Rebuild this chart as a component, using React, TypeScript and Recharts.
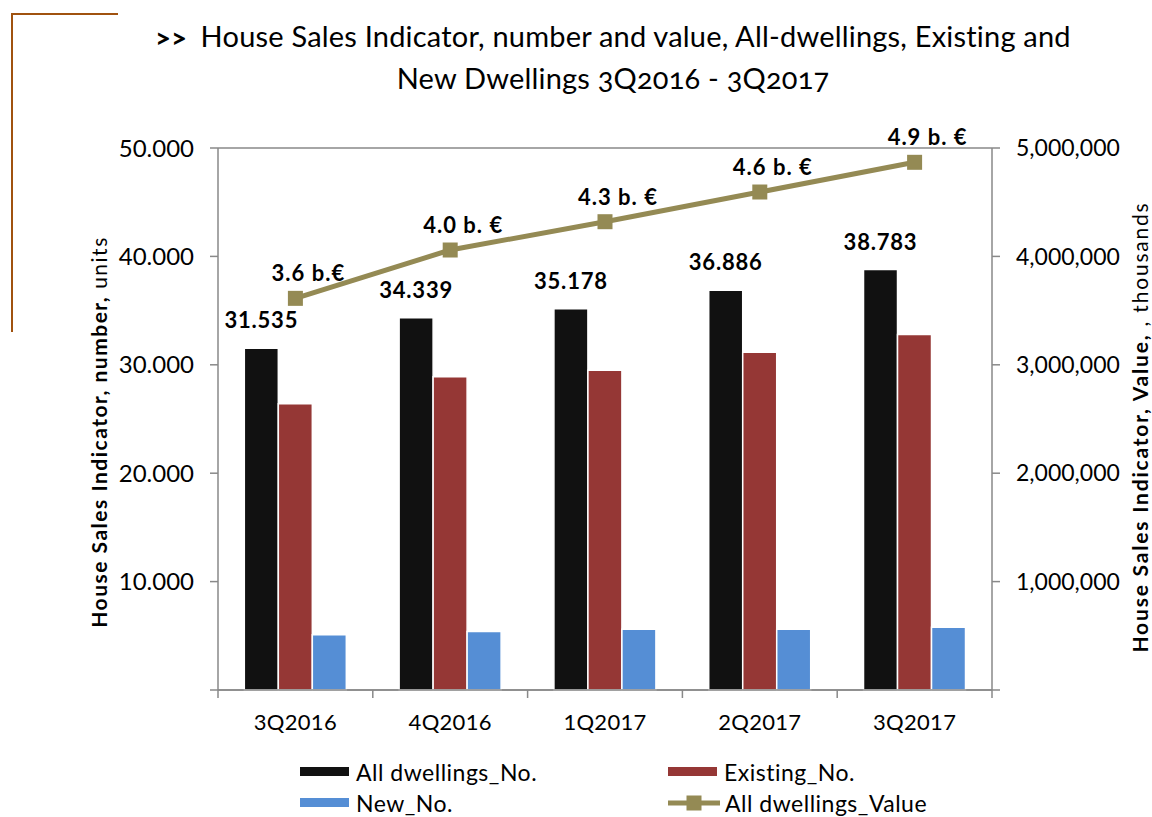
import React from 'react';
import {
  Bar,
  CartesianGrid,
  ComposedChart,
  LabelList,
  Line,
  XAxis,
  YAxis,
} from 'recharts';

const categories = ['3Q2016', '4Q2016', '1Q2017', '2Q2017', '3Q2017'];
const allDwellingsNo = [31535, 34339, 35178, 36886, 38783];
const existingNo = [26400, 28900, 29500, 31150, 32800];
const newNo = [5100, 5400, 5600, 5600, 5800];
const allDwellingsValue = [3613000, 4059000, 4320000, 4594000, 4868000];
const valueLabels = ['3.6 b.€', '4.0 b. €', '4.3 b. €', '4.6 b. €', '4.9 b. €'];
const leftTicks = [0, 10000, 20000, 30000, 40000, 50000];
const rightTicks = [0, 1000000, 2000000, 3000000, 4000000, 5000000];

const data = categories.map((name, i) => ({
  name,
  all: allDwellingsNo[i],
  existing: existingNo[i],
  fresh: newNo[i],
  value: allDwellingsValue[i],
  valueLabel: valueLabels[i],
}));

const W = 1152;
const H = 817;
const LEFT_W = 218;
const RIGHT_W = 160;
const TOP = 148;
const X_H = 127;
const STEP = (W - LEFT_W - RIGHT_W) / categories.length;

const FONT = 'Lato, "Open Sans", sans-serif';
const AXIS = '#898989';
const C_ALL = '#111111';
const C_EXIST = '#953735';
const C_NEW = '#558ED5';
const C_VALUE = '#948A54';

const sep = (v: number, ch: string) => String(v).replace(/\B(?=(\d{3})+(?!\d))/g, ch);

const XTick = (props: any) => {
  const { x, y, payload, index } = props;
  return (
    <g>
      <line x1={x - STEP / 2} x2={x - STEP / 2} y1={y} y2={y + 8} stroke={AXIS} strokeWidth={1.5} />
      {index === categories.length - 1 && (
        <line x1={x + STEP / 2} x2={x + STEP / 2} y1={y} y2={y + 8} stroke={AXIS} strokeWidth={1.5} />
      )}
      <text x={x} y={y + 40} textAnchor="middle" fontSize={22} letterSpacing={0.3} fontFamily={FONT} fill="#000">
        {payload.value}
      </text>
    </g>
  );
};

const BarLabel = (props: any) => {
  const { x, y, width, value } = props;
  return (
    <text
      x={x + width / 2}
      y={y - 20}
      textAnchor="middle"
      fontSize={22}
      letterSpacing={0.8}
      fontWeight="bold"
      fontFamily={FONT}
      fill="#000"
    >
      {sep(value, '.')}
    </text>
  );
};

const ValueLabel = (props: any) => {
  const { x, y, value } = props;
  return (
    <text
      x={x + 13}
      y={y - 17}
      textAnchor="middle"
      fontSize={22}
      letterSpacing={1}
      fontWeight="bold"
      fontFamily={FONT}
      fill="#000"
    >
      {value}
    </text>
  );
};

const SquareDot = (props: any) => {
  const { cx, cy } = props;
  return <rect x={cx - 7.5} y={cy - 7.5} width={15} height={15} fill={C_VALUE} />;
};

const LegendItem = ({ color, label, line }: { color: string; label: string; line?: boolean }) => (
  <div style={{ display: 'flex', alignItems: 'center', height: 31 }}>
    {line ? (
      <svg width={52} height={16} style={{ marginRight: 5 }}>
        <line x1={0} x2={52} y1={8} y2={8} stroke={C_VALUE} strokeWidth={5} />
        <rect x={18.5} y={0.5} width={15} height={15} fill={C_VALUE} />
      </svg>
    ) : (
      <div style={{ width: 49, height: 9, background: color, marginRight: 7 }} />
    )}
    <span>{label}</span>
  </div>
);

const axisTitle = (cx: number, dy: number, bold: string, rest: string, spacing: number) => (p: any) => {
  const vb = p.viewBox;
  const cy = vb.y + vb.height / 2 + dy;
  return (
    <text
      x={cx}
      y={cy}
      transform={`rotate(-90 ${cx} ${cy})`}
      textAnchor="middle"
      dominantBaseline="central"
      fontSize={21}
      letterSpacing={spacing}
      fontFamily={FONT}
      fill="#000"
    >
      <tspan fontWeight="bold">{bold}</tspan>
      <tspan>{rest}</tspan>
    </text>
  );
};

export default function App() {
  return (
    <div style={{ position: 'absolute', left: 0, top: 0, width: W, height: H, background: '#fff', fontFamily: FONT }}>
      <div
        style={{
          position: 'absolute',
          left: 11,
          top: 13,
          width: 105,
          height: 317,
          borderLeft: '2px solid #A0520F',
          borderTop: '2px solid #A0520F',
        }}
      />
      <div
        style={{
          position: 'absolute',
          left: 113,
          width: 1000,
          top: 15,
          textAlign: 'center',
          fontSize: 29,
          letterSpacing: 0.2,
          lineHeight: '42px',
          color: '#000',
          fontVariantNumeric: 'oldstyle-nums',
        }}
      >
        <b style={{ marginRight: 6 }}>&gt;&gt;</b> House Sales Indicator, number and value, All-dwellings, Existing and
        <br />
        New Dwellings 3Q2016 - 3Q2017
      </div>
      <ComposedChart
        width={W}
        height={H}
        data={data}
        margin={{ top: TOP, right: 0, bottom: 0, left: 0 }}
        barCategoryGap="17%"
        barGap={0}
      >
        <CartesianGrid vertical={false} stroke={AXIS} strokeWidth={1.5} />
        <XAxis
          dataKey="name"
          height={X_H}
          tickLine={false}
          tickSize={0}
          tickMargin={0}
          axisLine={{ stroke: AXIS, strokeWidth: 1.5 }}
          tick={<XTick />}
          interval={0}
        />
        <YAxis
          yAxisId="left"
          width={LEFT_W}
          domain={[0, 50000]}
          ticks={leftTicks}
          tickSize={8}
          tickMargin={16}
          tickLine={{ stroke: AXIS, strokeWidth: 1.5 }}
          axisLine={{ stroke: AXIS, strokeWidth: 1.5 }}
          tickFormatter={(v: number) => (v === 0 ? '' : sep(v, '.'))}
          tick={{ fill: '#000', fontSize: 24, fontFamily: FONT }}
          label={{ content: axisTitle(98, 13, 'House Sales Indicator, number,', ' units', 1.5) }}
        />
        <YAxis
          yAxisId="right"
          orientation="right"
          width={RIGHT_W}
          domain={[0, 5000000]}
          ticks={rightTicks}
          tickSize={8}
          tickMargin={16}
          tickLine={{ stroke: AXIS, strokeWidth: 1.5 }}
          axisLine={{ stroke: AXIS, strokeWidth: 1.5 }}
          tickFormatter={(v: number) => (v === 0 ? '' : sep(v, ','))}
          tick={{ fill: '#000', fontSize: 23, fontFamily: FONT, textAnchor: 'start' }}
          label={{ content: axisTitle(1139, 8, 'House Sales  Indicator, Value,', ' , thousands', 1.8) }}
        />
        <Bar yAxisId="left" dataKey="all" fill={C_ALL} stroke="#fff" strokeWidth={1.5} isAnimationActive={false}>
          <LabelList dataKey="all" content={<BarLabel />} />
        </Bar>
        <Bar yAxisId="left" dataKey="existing" fill={C_EXIST} stroke="#fff" strokeWidth={1.5} isAnimationActive={false} />
        <Bar yAxisId="left" dataKey="fresh" fill={C_NEW} stroke="#fff" strokeWidth={1.5} isAnimationActive={false} />
        <Line
          yAxisId="right"
          dataKey="value"
          stroke={C_VALUE}
          strokeWidth={5}
          dot={<SquareDot />}
          activeDot={false}
          isAnimationActive={false}
        >
          <LabelList dataKey="valueLabel" content={<ValueLabel />} />
        </Line>
      </ComposedChart>
      <div
        style={{
          position: 'absolute',
          left: 300,
          top: 756,
          display: 'grid',
          gridTemplateColumns: '368px 300px',
          fontSize: 23,
          letterSpacing: 0.5,
          color: '#000',
        }}
      >
        <LegendItem color={C_ALL} label="All dwellings_No." />
        <LegendItem color={C_EXIST} label="Existing_No." />
        <LegendItem color={C_NEW} label="New_No." />
        <LegendItem color={C_VALUE} label="All dwellings_Value" line />
      </div>
    </div>
  );
}
